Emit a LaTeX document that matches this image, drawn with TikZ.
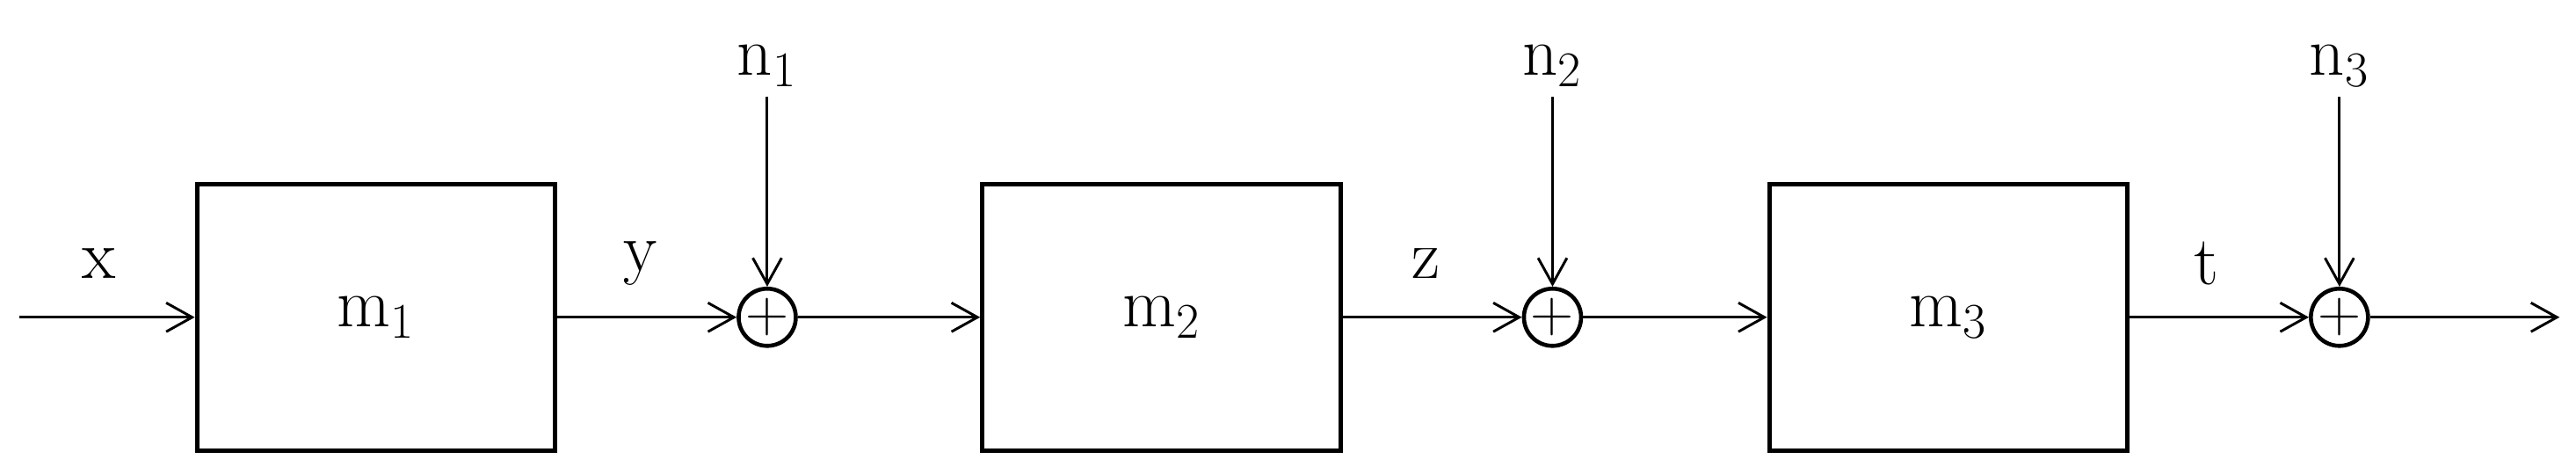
\documentclass[tikz,border=0pt]{standalone}
\usetikzlibrary{arrows.meta}
\begin{document}
\begin{tikzpicture}[x=0.02cm,y=0.02cm,
  blk/.style={draw,line width=1.6pt,minimum width=218*0.02cm,minimum height=162*0.02cm,inner sep=0pt},
  sum/.style={draw,circle,line width=1.4pt,minimum size=34*0.02cm,inner sep=0pt},
  lab/.style={font=\fontsize{24}{28}\selectfont},
  arr/.style={-{Straight Barb[length=9pt,width=10pt]},line width=0.9pt}]
\useasboundingbox (0,0) rectangle (1568,288);
\node[blk,lab] (m1) at (229,95) {m$_1$};
\node[blk,lab] (m2) at (707,95) {m$_2$};
\node[blk,lab] (m3) at (1186,95) {m$_3$};
\node[sum] (s1) at (467,95) {\fontsize{20}{20}\selectfont$+$};
\node[sum] (s2) at (945,95) {\fontsize{20}{20}\selectfont$+$};
\node[sum] (s3) at (1424,95) {\fontsize{20}{20}\selectfont$+$};
\node[lab] (n1) at (467,248) {n$_1$};
\node[lab] (n2) at (945,248) {n$_2$};
\node[lab] (n3) at (1424,248) {n$_3$};
\coordinate (in) at (12,95);
\coordinate (out) at (1558,95);
\node[lab] (lx) at (60,128) {x};
\node[lab] (ly) at (390,128) {y};
\node[lab] (lz) at (868,128) {z};
\node[lab] (lt) at (1343,128) {t};
\draw[arr] (in) -- (m1);
\draw[arr] (m1) -- (s1);
\draw[arr] (s1) -- (m2);
\draw[arr] (m2) -- (s2);
\draw[arr] (s2) -- (m3);
\draw[arr] (m3) -- (s3);
\draw[arr] (s3) -- (out);
\draw[arr] (n1) -- (s1);
\draw[arr] (n2) -- (s2);
\draw[arr] (n3) -- (s3);
\end{tikzpicture}
\end{document}
